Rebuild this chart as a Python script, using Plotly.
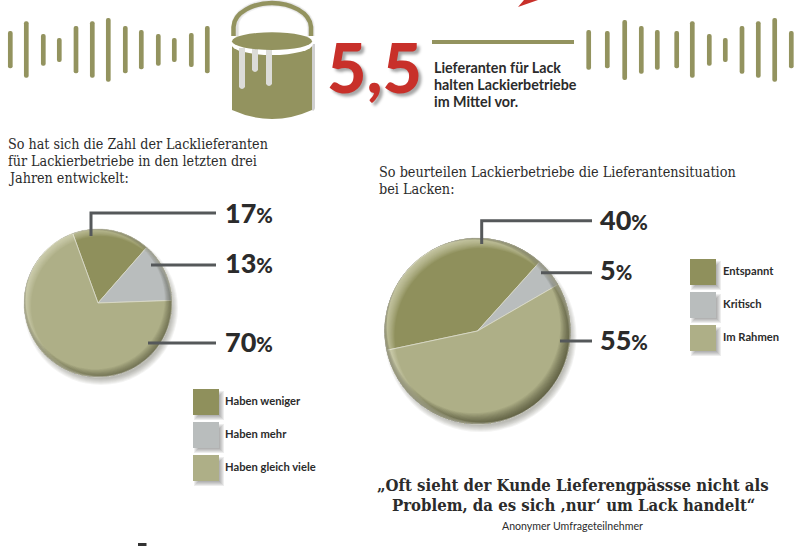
import numpy as np
import plotly.graph_objects as go

W, H = 805, 546
OLIVE, GREY, KHAKI = "#8f905c", "#b9bdbd", "#aeaf87"
PIE_COLORS = [OLIVE, GREY, KHAKI]
RED, INK, RULE, BAR = "#c8302a", "#2b2b2b", "#55585a", "#93935f"
SANS = "Lato"
SERIF = "DejaVu Serif Condensed"

# ---- data ----
left_title = ["So hat sich die Zahl der Lacklieferanten", "für Lackierbetriebe in den letzten drei", "Jahren entwickelt:"]
right_title = ["So beurteilen Lackierbetriebe die Lieferantensituation", "bei Lacken:"]
left_labels = ["Haben weniger", "Haben mehr", "Haben gleich viele"]
left_values = [17, 13, 70]
right_labels = ["Entspannt", "Kritisch", "Im Rahmen"]
right_values = [40, 5, 55]
key_figure = "5,5"
key_text = ["Lieferanten für Lack", "halten Lackierbetriebe", "im Mittel vor."]
quote = ["„Oft sieht der Kunde Lieferengpässse nicht als", "Problem, da es sich ‚nur‘ um Lack handelt“"]
quote_source = "Anonymer Umfrageteilnehmer"

eq_left_x = [10.3, 26.3, 43.3, 59.3, 76, 92.3, 108.3, 125.3, 141.3, 158.3, 174.3, 191.3, 207.3]
eq_left_top = [31, 21.3, 34, 38, 26, 21.3, 18, 26, 30, 34, 38, 33, 26]
eq_left_bot = [68.3, 77.7, 65.7, 62, 73.3, 77.7, 81.7, 73.3, 69.3, 65.7, 62, 67, 73.3]
eq_right_x = [588.7, 607.3, 624.7, 641.3, 657.3, 676.7, 692.3, 709.3, 725.3, 742, 758.3, 774.7, 791.3]
eq_right_top = [30, 31, 20, 26, 30, 31, 21.3, 34, 38, 26, 21.3, 18, 31]
eq_right_bot = [69.7, 68.3, 80, 73.7, 69.7, 68.3, 77.7, 65.7, 62, 73.7, 77.7, 81.7, 68.3]

# ---- layout helpers ----
L = dict(cx=98, cy=303, r=74, rot=-20)
R = dict(cx=477.5, cy=331, r=93, rot=-102)
shapes, notes = [], []


def circle_pts(cx, cy, r, n=140):
    t = np.linspace(0, 2 * np.pi, n, endpoint=False)
    return cx + r * np.cos(t), cy + r * np.sin(t)


def poly(xs, ys):
    return "M" + " L".join(f"{x:.2f},{y:.2f}" for x, y in zip(xs, ys)) + " Z"


def add(kind="path", layer="above", **kw):
    shapes.append(dict(type=kind, xref="x", yref="y", layer=layer, **kw))


def ring(cx, cy, r, ix, iy, ir, color):
    p = poly(*circle_pts(cx, cy, r)) + " " + poly(*circle_pts(ix, iy, ir))
    add(path=p, fillcolor=color, fillrule="evenodd", line=dict(width=0))


def pie_effects(p, band):
    cx, cy, r = p["cx"], p["cy"], p["r"]
    for k in range(1, band + 1):
        ring(cx, cy, r, cx - 0.28 * k, cy - 0.33 * k, r - 0.45 * k, "rgba(45,45,25,0.05)")
        ring(cx, cy, r, cx + 0.3 * k, cy + 0.3 * k, r - 0.43 * k, "rgba(255,255,240,0.05)")


def pie_shadow(p):
    cx, cy, r = p["cx"] + 3, p["cy"] + 5, p["r"]
    for k in range(7):
        rr = r + 3 - k
        add("circle", "below", x0=cx - rr, x1=cx + rr, y0=cy - rr, y1=cy + rr,
            fillcolor="rgba(60,60,50,0.06)", line=dict(width=0))


def rule(points):
    d = "M" + " L".join(f"{x},{y}" for x, y in points)
    add(path=d, line=dict(color=RULE, width=3), fillcolor="rgba(0,0,0,0)")


def note(x, y, text, size, color=INK, family=SANS, weight=400, anchor="left", **font):
    notes.append(dict(x=x, y=y, xref="x", yref="y", text=text, showarrow=False, xanchor=anchor,
                      yanchor="middle", align=anchor, borderpad=0,
                      font=dict(family=family, size=size, color=color, weight=weight, **font)))


def swatch(x, y, color):
    for k in range(5):
        add("rect", "below", x0=x + 1 + k, x1=x + 27 + 4 - k, y0=y + 2 + k, y1=y + 27 + 4 - k,
            fillcolor="rgba(60,60,60,0.09)", line=dict(width=0))
    add("rect", "above", x0=x, x1=x + 26, y0=y, y1=y + 26, fillcolor=color, line=dict(width=0))


def value_label(x, y, v):
    note(x, y, f'{v}<span style="font-size:20px">%</span>', 27, weight=900)


def pie(p, labels, values):
    return go.Pie(labels=labels, values=values, sort=False, direction="clockwise", rotation=p["rot"],
                  textinfo="none", hoverinfo="skip", showlegend=False,
                  marker=dict(colors=PIE_COLORS, line=dict(color="#dcdccc", width=0.8)),
                  domain=dict(x=[(p["cx"] - p["r"]) / W, (p["cx"] + p["r"]) / W],
                              y=[1 - (p["cy"] + p["r"]) / H, 1 - (p["cy"] - p["r"]) / H]))


# ---- pies ----
pie_shadow(L); pie_shadow(R)
pie_effects(L, 10); pie_effects(R, 14)

rule([(91, 236), (91, 213), (216, 213)]); rule([(151, 265), (216, 265)]); rule([(148, 343), (216, 343)])
rule([(481.7, 244), (481.7, 220.7), (592, 220.7)]); rule([(541, 272.7), (592, 272.7)]); rule([(560, 341), (592, 341)])

for y, v in zip([212.5, 262.5, 341], left_values):
    value_label(223.5, y, v)
for y, v in zip([219.5, 269.5, 339], right_values):
    value_label(598.5, y, v)

for y, c, t in zip([389, 422, 455], PIE_COLORS, left_labels):
    swatch(193, y, c)
    note(224, y + 11, t, 11.2, weight=700)
for y, c, t in zip([259, 292, 325], PIE_COLORS, right_labels):
    swatch(690, y, c)
    note(722, y + 11, t, 11.2, weight=700)

# ---- bucket ----
handle = "M233.5,36 L233.5,27 C234,12 254,3 272,3 C290,3 310,12 311,27 L311,36"
body = "M232,42 L232,110 Q272,128 312,110 L312,42 Z"
for k in range(4):
    add(path=handle.replace("233.5,", f"{235.5},"), layer="below", line=dict(color="rgba(90,90,90,0.05)", width=8 - k), fillcolor="rgba(0,0,0,0)")
    add(path="M312,44 L312,110 Q314,112 315,108 L315,44 Z", layer="below", fillcolor="rgba(90,90,90,0.08)", line=dict(width=0))
add(path=handle, line=dict(color=BAR, width=4.5), fillcolor="rgba(0,0,0,0)")
add(path=body, fillcolor=BAR, line=dict(width=0))
add("circle", x0=231, x1=313, y0=33, y1=55, fillcolor="#ffffff", line=dict(width=0))
for x0, x1, yb in [(239, 245, 90), (252, 258, 73), (266, 272, 87)]:
    add(path=f"M{x0},48 L{x0},{yb - 3} Q{(x0 + x1) / 2},{yb + 1} {x1},{yb - 3} L{x1},48 Z", fillcolor="#dcdcd8", line=dict(width=0))
add("circle", x0=232, x1=312, y0=32.3, y1=50, fillcolor=BAR, line=dict(width=0))

# ---- header ----
add(path="M518,7 L524,0 L538,0 Z", fillcolor=RED, line=dict(width=0))
add(path="M432,40 L574,40 L574,44 L432,44 Z", fillcolor=BAR, line=dict(width=0))
note(326, 66, key_figure, 68, color=RED, weight=900, shadow="3px 3px 3px rgba(0,0,0,0.35)")
for y, t in zip([67, 84, 101], key_text):
    note(433, y, t, 14.3, weight=700)

# ---- titles and quote ----
for y, t in zip([144, 161, 178], left_title):
    note(7, y, t, 14.2, family=SERIF)
for y, t in zip([172, 189], right_title):
    note(378, y, t, 14.3, family=SERIF)
for y, t in zip([485, 505], quote):
    note(573, y, t, 16.6, family=SERIF, weight=700, anchor="center")
note(572, 526, quote_source, 10.6, anchor="center")
add("rect", x0=138, x1=146.5, y0=543, y1=546, fillcolor="#333333", line=dict(width=0))

bars = go.Bar(x=eq_left_x + eq_right_x,
              base=eq_left_top + eq_right_top,
              y=[b - t for b, t in zip(eq_left_bot + eq_right_bot, eq_left_top + eq_right_top)],
              width=4.7, marker=dict(color=BAR, cornerradius=2, line=dict(width=0)),
              hoverinfo="skip", showlegend=False)

fig = go.Figure([bars, pie(L, left_labels, left_values), pie(R, right_labels, right_values)])
fig.update_layout(width=W, height=H, margin=dict(l=0, r=0, t=0, b=0), paper_bgcolor="white",
                  plot_bgcolor="rgba(0,0,0,0)", shapes=shapes, annotations=notes,
                  xaxis=dict(range=[0, W], visible=False, fixedrange=True),
                  yaxis=dict(range=[H, 0], visible=False, fixedrange=True))
fig.write_html("out.html", config=dict(displayModeBar=False),
               post_script="document.body.style.margin='0';document.documentElement.style.overflow='hidden';")
